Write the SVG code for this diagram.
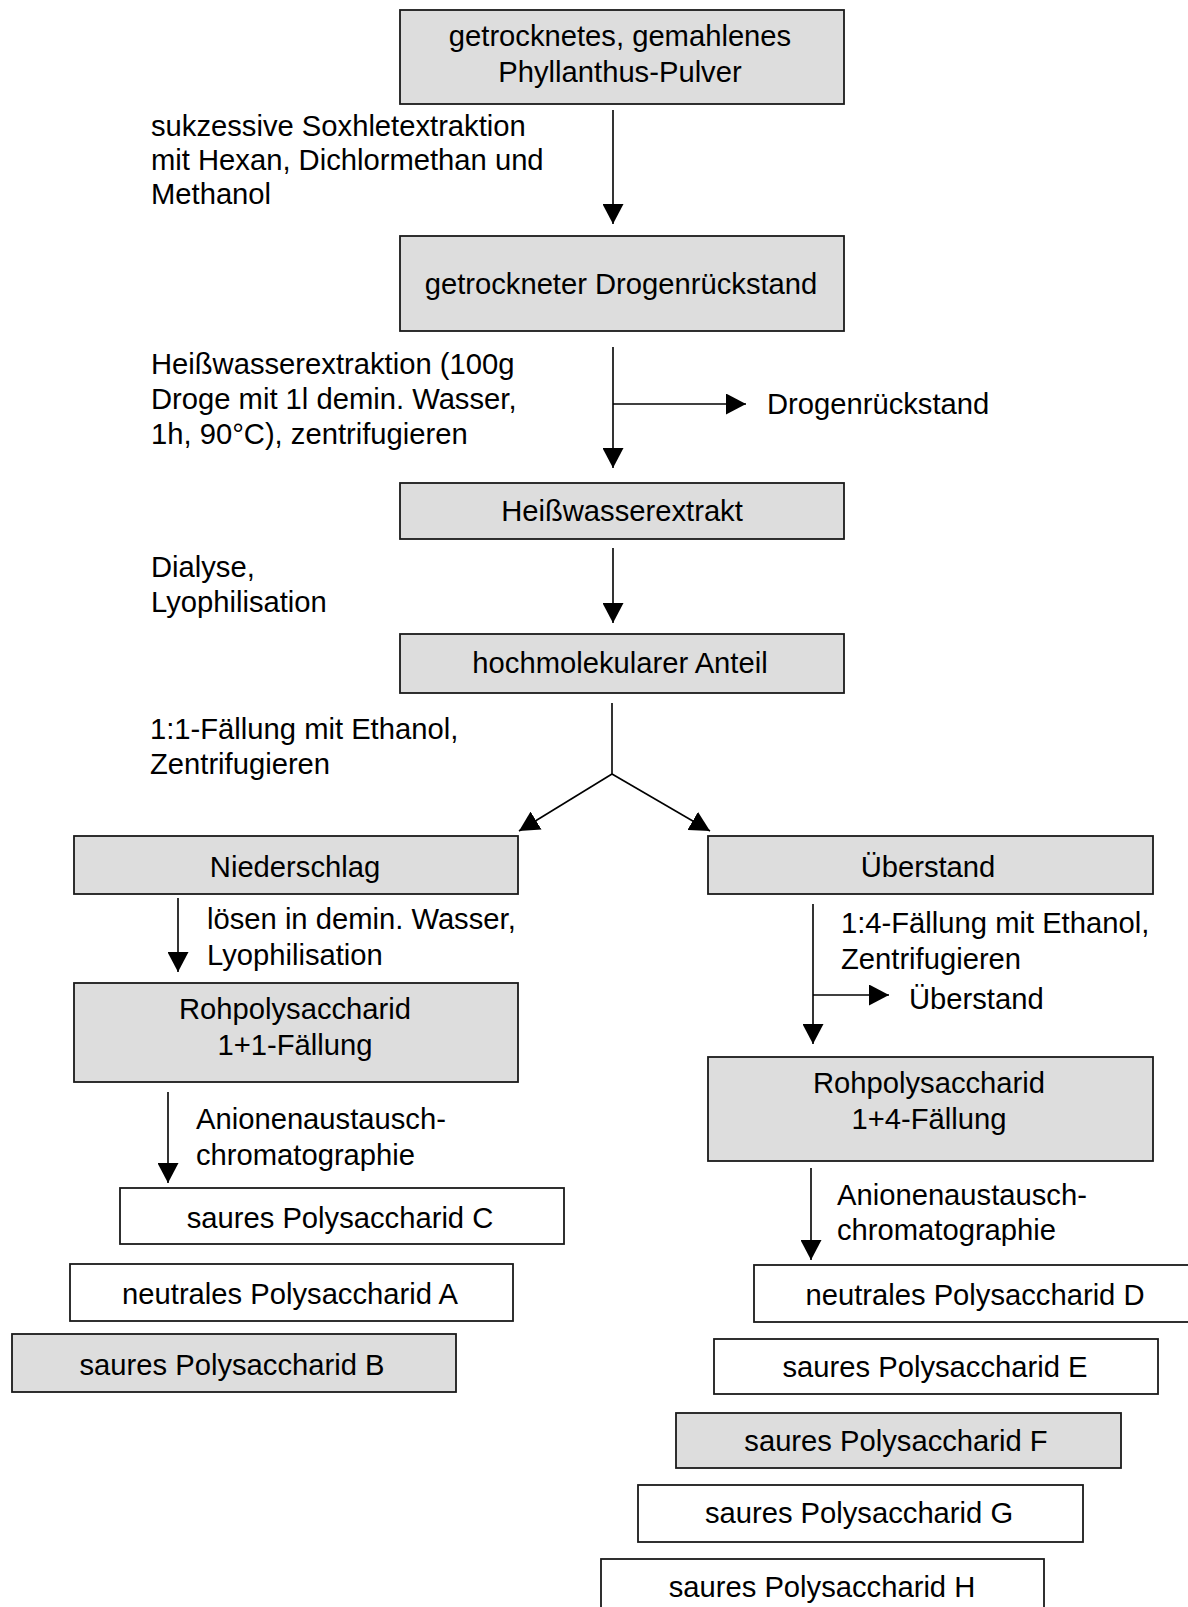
<svg xmlns="http://www.w3.org/2000/svg" width="1188" height="1607" viewBox="0 0 1188 1607">
<style>
  .bx { stroke: #1a1a1a; stroke-width: 1.8; }
  .g { fill: #dddddd; }
  .w { fill: #ffffff; }
  text { font-family: "Liberation Sans", Arial, sans-serif; font-size: 29.2px; fill: #000; }
  .c { text-anchor: middle; }
  .ln { stroke: #000; stroke-width: 1.6; fill: none; }
</style>
<defs>
  <marker id="ah" viewBox="0 0 20 21" refX="20" refY="10.5" markerWidth="20" markerHeight="21" markerUnits="userSpaceOnUse" orient="auto">
    <path d="M0,0 L20,10.5 L0,21 z" fill="#000"/>
  </marker>
</defs>
<rect width="1188" height="1607" fill="#ffffff"/>

<g id="connectors">
  <line class="ln" x1="613" y1="110" x2="613" y2="224" marker-end="url(#ah)"/>
  <line class="ln" x1="613" y1="347" x2="613" y2="468" marker-end="url(#ah)"/>
  <line class="ln" x1="613" y1="404" x2="746" y2="404" marker-end="url(#ah)"/>
  <line class="ln" x1="613" y1="548" x2="613" y2="623" marker-end="url(#ah)"/>
  <line class="ln" x1="612" y1="703" x2="612" y2="774"/>
  <line class="ln" x1="612" y1="774" x2="519" y2="831" marker-end="url(#ah)"/>
  <line class="ln" x1="612" y1="774" x2="710" y2="831" marker-end="url(#ah)"/>
  <line class="ln" x1="178" y1="898" x2="178" y2="972" marker-end="url(#ah)"/>
  <line class="ln" x1="168" y1="1092" x2="168" y2="1183" marker-end="url(#ah)"/>
  <line class="ln" x1="813" y1="904" x2="813" y2="1044" marker-end="url(#ah)"/>
  <line class="ln" x1="813" y1="995" x2="889" y2="995" marker-end="url(#ah)"/>
  <line class="ln" x1="811" y1="1168" x2="811" y2="1260" marker-end="url(#ah)"/>
</g>

<g id="labels">
  <text x="151" y="136">sukzessive Soxhletextraktion</text>
  <text x="151" y="170">mit Hexan, Dichlormethan und</text>
  <text x="151" y="204">Methanol</text>
  <text x="151" y="374">Heißwasserextraktion (100g</text>
  <text x="151" y="409">Droge mit 1l demin. Wasser,</text>
  <text x="151" y="444">1h, 90°C), zentrifugieren</text>
  <text x="767" y="414">Drogenrückstand</text>
  <text x="151" y="577">Dialyse,</text>
  <text x="151" y="612">Lyophilisation</text>
  <text x="150" y="739">1:1-Fällung mit Ethanol,</text>
  <text x="150" y="774">Zentrifugieren</text>
  <text x="207" y="929">lösen in demin. Wasser,</text>
  <text x="207" y="965">Lyophilisation</text>
  <text x="196" y="1129">Anionenaustausch-</text>
  <text x="196" y="1165">chromatographie</text>
  <text x="841" y="933">1:4-Fällung mit Ethanol,</text>
  <text x="841" y="969">Zentrifugieren</text>
  <text x="909" y="1009">Überstand</text>
  <text x="837" y="1205">Anionenaustausch-</text>
  <text x="837" y="1240">chromatographie</text>
</g>

<g id="n1"><rect class="bx g" x="400" y="10" width="444" height="94"/>
  <text class="c" x="620" y="46">getrocknetes, gemahlenes</text>
  <text class="c" x="620" y="82">Phyllanthus-Pulver</text></g>
<g id="n2"><rect class="bx g" x="400" y="236" width="444" height="95"/>
  <text class="c" x="621" y="294">getrockneter Drogenrückstand</text></g>
<g id="n3"><rect class="bx g" x="400" y="483" width="444" height="56"/>
  <text class="c" x="622" y="521">Heißwasserextrakt</text></g>
<g id="n4"><rect class="bx g" x="400" y="634" width="444" height="59"/>
  <text class="c" x="620" y="673">hochmolekularer Anteil</text></g>
<g id="n5"><rect class="bx g" x="74" y="836" width="444" height="58"/>
  <text class="c" x="295" y="877">Niederschlag</text></g>
<g id="n6"><rect class="bx g" x="708" y="836" width="445" height="58"/>
  <text class="c" x="928" y="877">Überstand</text></g>
<g id="n7"><rect class="bx g" x="74" y="983" width="444" height="99"/>
  <text class="c" x="295" y="1019">Rohpolysaccharid</text>
  <text class="c" x="295" y="1055">1+1-Fällung</text></g>
<g id="n8"><rect class="bx g" x="708" y="1057" width="445" height="104"/>
  <text class="c" x="929" y="1093">Rohpolysaccharid</text>
  <text class="c" x="929" y="1129">1+4-Fällung</text></g>
<g id="nC"><rect class="bx w" x="120" y="1188" width="444" height="56"/>
  <text class="c" x="340" y="1228">saures Polysaccharid C</text></g>
<g id="nA"><rect class="bx w" x="70" y="1264" width="443" height="57"/>
  <text class="c" x="290" y="1304">neutrales Polysaccharid A</text></g>
<g id="nB"><rect class="bx g" x="12" y="1334" width="444" height="58"/>
  <text class="c" x="232" y="1375">saures Polysaccharid B</text></g>
<g id="nD"><rect class="bx w" x="754" y="1265" width="445" height="57"/>
  <text class="c" x="975" y="1305">neutrales Polysaccharid D</text></g>
<g id="nE"><rect class="bx w" x="714" y="1339" width="444" height="55"/>
  <text class="c" x="935" y="1377">saures Polysaccharid E</text></g>
<g id="nF"><rect class="bx g" x="676" y="1413" width="445" height="55"/>
  <text class="c" x="896" y="1451">saures Polysaccharid F</text></g>
<g id="nG"><rect class="bx w" x="638" y="1485" width="445" height="57"/>
  <text class="c" x="859" y="1523">saures Polysaccharid G</text></g>
<g id="nH"><rect class="bx w" x="601" y="1559" width="443" height="60"/>
  <text class="c" x="822" y="1597">saures Polysaccharid H</text></g>
</svg>
